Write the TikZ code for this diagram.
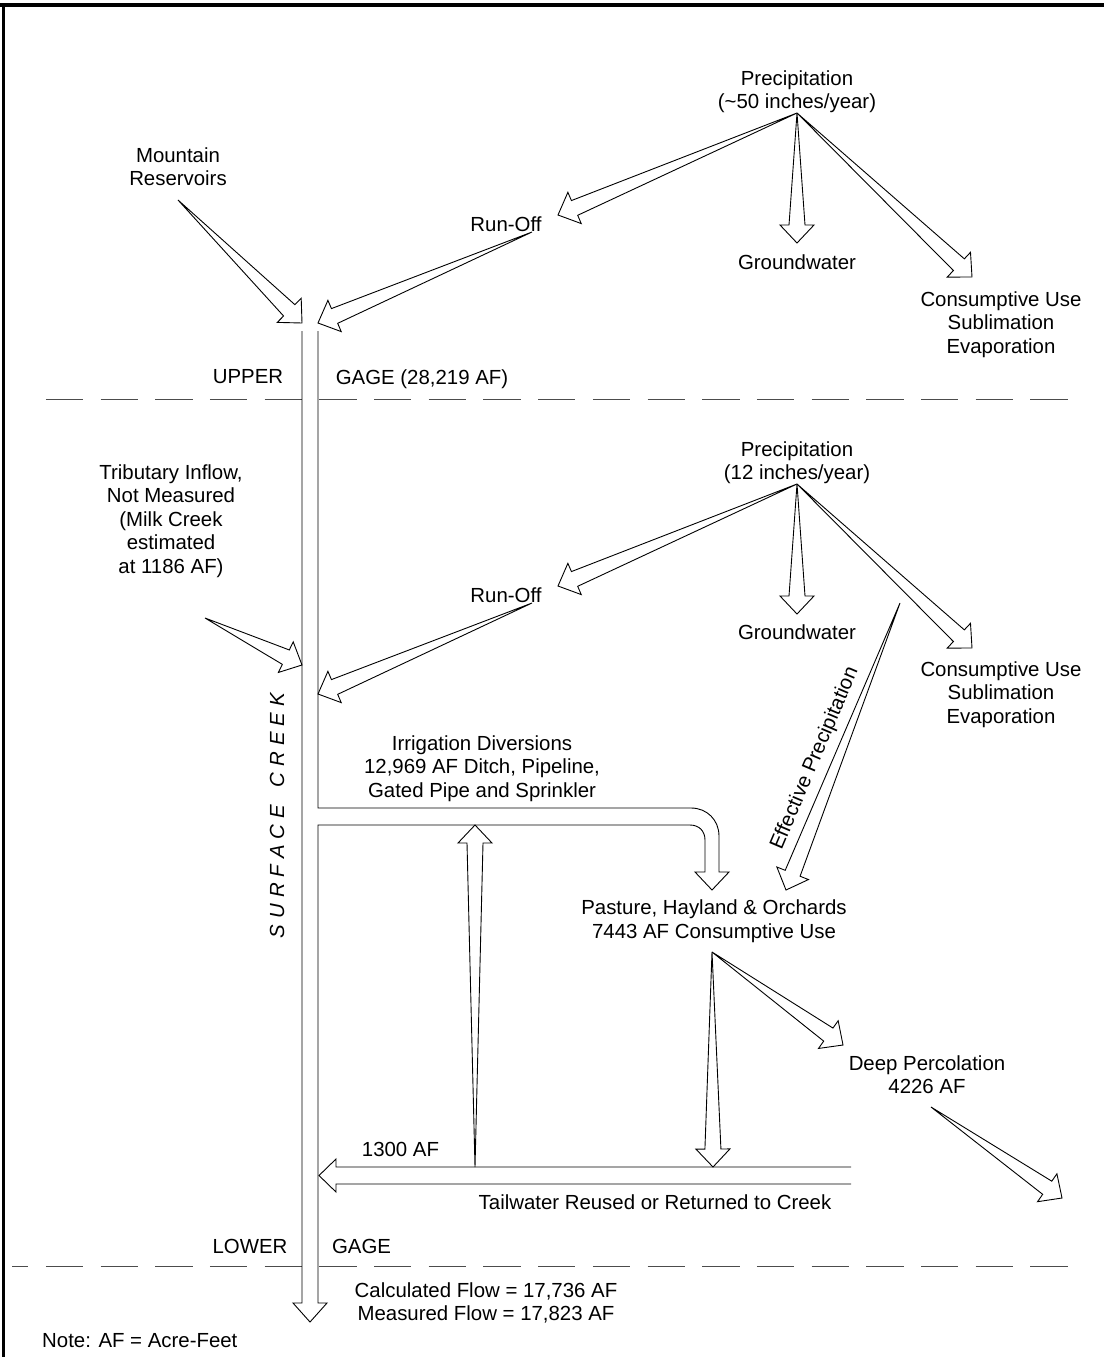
\documentclass[tikz,border=0pt]{standalone}
\usepackage{fontspec}
\setmainfont{Liberation Sans}
\usetikzlibrary{calc}
\tikzset{
  lbl/.style={font=\fontsize{20.4}{23.5}\selectfont, inner sep=0pt, align=center},
  arrline/.style={draw=black, line width=0.9pt, line join=miter},
  gagedash/.style={draw=black!70, line width=1pt, dash pattern=on 37.3pt off 17.4pt},
  frameline/.style={draw=black, line width=4pt},
}
\newcommand{\fatarr}[2]{%
  \coordinate (fab) at ($(#2)!18pt!(#1)$);
  \draw[arrline] (#1) -- ($(fab)!8pt!90:(#2)$) -- ($(fab)!17pt!90:(#2)$) -- (#2)
     -- ($(fab)!17pt!-90:(#2)$) -- ($(fab)!8pt!-90:(#2)$) -- cycle;
}
\begin{document}
\begin{tikzpicture}[x=1pt,y=-1pt]
\useasboundingbox (0,0) rectangle (1104,1357);
% frame
\coordinate (frTL) at (0,5); \coordinate (frTR) at (1104,5);
\coordinate (frL1) at (3.5,3); \coordinate (frL2) at (3.5,1357);
\draw[frameline] (frTL) -- (frTR);
\draw[frameline, line width=3.5pt] (frL1) -- (frL2);

% gage lines
\coordinate (gu1) at (45.8,399); \coordinate (gu2) at (1080,399);
\coordinate (gl1) at (12,1266); \coordinate (gl2) at (1080,1266);
\draw[gagedash] (gu1) -- (gu2);
\draw[gagedash, dash phase=20.9pt] (gl1) -- (gl2);

% texts
\node[lbl] (precU) at (797,91.5) {Precipitation\\(\textasciitilde 50 inches/year)};
\node[lbl] (mtn) at (178,166.5) {Mountain\\Reservoirs};
\node[lbl] (runU) at (506,224) {Run-Off};
\node[lbl] (gwU) at (797,262) {Groundwater};
\node[lbl] (consU) at (1001,324.5) {Consumptive Use\\Sublimation\\Evaporation};
\node[lbl] (upper) at (248,377) {UPPER};
\node[lbl] (gageU) at (422,379) {GAGE (28,219 AF)};
\node[lbl] (precL) at (797,462.5) {Precipitation\\(12 inches/year)};
\node[lbl] (trib) at (171,521) {Tributary Inflow,\\Not Measured\\(Milk Creek\\estimated\\at 1186 AF)};
\node[lbl] (runL) at (506,595) {Run-Off};
\node[lbl] (gwL) at (797,632) {Groundwater};
\node[lbl] (consL) at (1001,694.5) {Consumptive Use\\Sublimation\\Evaporation};
\node[lbl] (irr) at (482,768.5) {Irrigation Diversions\\12,969 AF Ditch, Pipeline,\\Gated Pipe and Sprinkler};
\node[lbl] (past) at (714,921) {Pasture, Hayland \& Orchards\\7443 AF Consumptive Use};
\node[lbl] (deep) at (927,1074.75) {Deep Percolation\\4226 AF};
\node[lbl] (af1300) at (400.5,1149) {1300 AF};
\node[lbl] (tailw) at (655,1202) {Tailwater Reused or Returned to Creek};
\node[lbl] (lower) at (250,1246) {LOWER};
\node[lbl] (gageL) at (361.5,1246) {GAGE};
\node[lbl] (calc) at (486,1303) {Calculated Flow = 17,736 AF\\Measured Flow = 17,823 AF};
\node[lbl, anchor=west] (note) at (42,1341) {Note: AF = Acre-Feet};
\node[lbl, rotate=67] (eff) at (815,758.5) {Effective Precipitation};
\node[lbl, rotate=90, font=\fontsize{20.4}{23.5}\selectfont\itshape] (creek) at (277,815.5)
  {S\kern6pt U\kern6pt R\kern6pt F\kern6pt A\kern6pt C\kern6pt E\kern6pt\ \kern6pt C\kern6pt R\kern6pt E\kern6pt E\kern6pt K};

% arrow coordinates
\coordinate (mtnT) at (178,200); \coordinate (mtnH) at (302,323);
\coordinate (ruT) at (532,232); \coordinate (ruH) at (318,323);
\coordinate (pU) at (797,113);
\coordinate (pUr) at (558,215); \coordinate (pUg) at (797,243); \coordinate (pUc) at (972,277);
\coordinate (tribT) at (205,618); \coordinate (tribH) at (302,665);
\coordinate (rlT) at (532,603); \coordinate (rlH) at (318,694);
\coordinate (pL) at (797,484);
\coordinate (pLr) at (558,586); \coordinate (pLg) at (797,614); \coordinate (pLc) at (972,648);
\coordinate (effT) at (900,603); \coordinate (effH) at (786,890);
\coordinate (pastA) at (712,952); \coordinate (pastD) at (713,1167); \coordinate (deepH) at (843,1045);
\coordinate (deepT2) at (931,1107); \coordinate (deepH2) at (1062,1198);
\coordinate (upT) at (475,1167); \coordinate (upH) at (475,825);

\fatarr{mtnT}{mtnH}
\fatarr{ruT}{ruH}
\fatarr{pU}{pUr}
\fatarr{pU}{pUg}
\fatarr{pU}{pUc}
\fatarr{tribT}{tribH}
\fatarr{rlT}{rlH}
\fatarr{pL}{pLr}
\fatarr{pL}{pLg}
\fatarr{pL}{pLc}
\fatarr{effT}{effH}
\fatarr{pastA}{pastD}
\fatarr{pastA}{deepH}
\fatarr{deepT2}{deepH2}
\fatarr{upT}{upH}

% creek with irrigation diversion and outlet
\coordinate (crTR) at (318,331); \coordinate (crTL) at (302,331);
\coordinate (irrA) at (318,808); \coordinate (irrB) at (691,808);
\coordinate (irrC) at (719,836); \coordinate (irrD) at (719,872);
\coordinate (irrTip) at (712,890);
\coordinate (irrE) at (705,872); \coordinate (irrF) at (705,840);
\coordinate (irrG) at (690,825); \coordinate (irrH) at (318,825);
\coordinate (crBR) at (318,1303); \coordinate (crTip) at (310,1322); \coordinate (crBL) at (302,1303);
\draw[arrline] (crTR) -- (irrA) -- (irrB) .. controls (707,808) and (719,820) .. (irrC)
  -- (irrD) -- (729,872) -- (irrTip) -- (695,872) -- (irrE) -- (irrF)
  .. controls (705,831) and (699,825) .. (irrG) -- (irrH) -- (crBR) -- (327,1303) -- (crTip)
  -- (293,1303) -- (crBL) -- (crTL);

% tailwater return arrow
\coordinate (twR1) at (851,1167); \coordinate (twR2) at (851,1184);
\coordinate (twTip) at (319,1175.5);
\draw[arrline] (twR1) -- (336,1167) -- (336,1159) -- (twTip) -- (336,1192) -- (336,1184) -- (twR2);
\end{tikzpicture}
\end{document}
